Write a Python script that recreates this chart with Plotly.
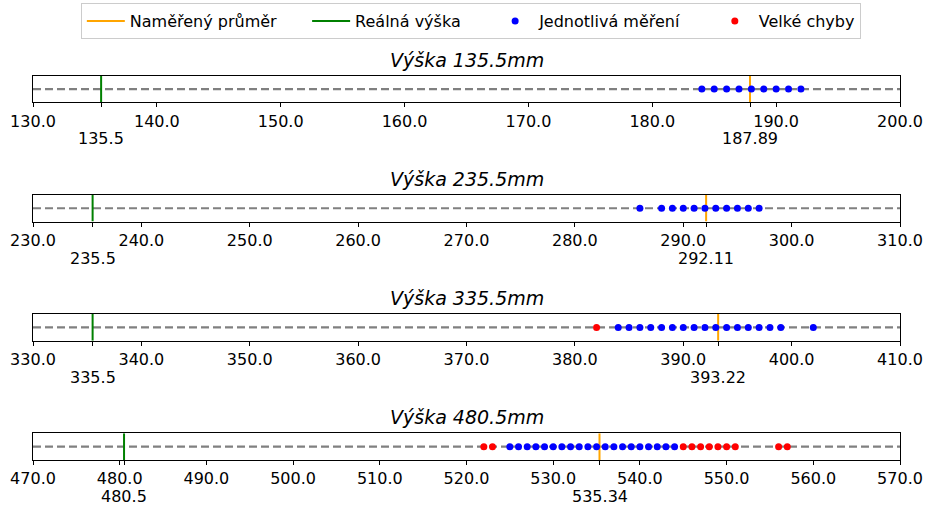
import plotly.graph_objects as go

# ---- data ----
real_heights = [135.5, 235.5, 335.5, 480.5]
measured_means = [187.89, 292.11, 393.22, 535.34]
x_ranges = [[130, 200], [230, 310], [330, 410], [470, 570]]

good_1 = [184, 185, 186, 187, 188, 189, 190, 191, 192]
good_2 = [286, 288, 289, 290, 291, 292, 293, 294, 295, 296, 297]
good_3 = [384, 385, 386, 387, 388, 389, 390, 391, 392, 393, 394, 395, 396, 397, 398, 399, 402]
good_4 = [525, 526, 527, 528, 529, 530, 531, 532, 533, 534, 535, 536, 537, 538, 539, 540,
          541, 542, 543, 544]
bad_1 = []
bad_2 = []
bad_3 = [382]
bad_4 = [522, 523, 545, 546, 547, 548, 549, 550, 551, 556, 557]

good_sets = [good_1, good_2, good_3, good_4]
bad_sets = [bad_1, bad_2, bad_3, bad_4]

legend_names = ["Naměřený průměr", "Reálná výška", "Jednotlivá měření", "Velké chyby"]

# ---- layout geometry (pixels) ----
W, H = 926, 506
panel_tops = [75.7, 194.9, 314.1, 433.3]
panel_h = 26.7
NB = "\u00a0"
legend_pad = [NB * 5, NB * 5, NB * 5, ""]

FONT = "DejaVu Sans"
fig = go.Figure()

legend_done = {"mean": False, "real": False, "good": False, "bad": False}

for i in range(4):
    n = i + 1
    xa = "x" if n == 1 else f"x{n}"
    ya = "y" if n == 1 else f"y{n}"
    x0, x1 = x_ranges[i]

    # dashed baseline
    fig.add_trace(go.Scatter(x=[x0, x1], y=[0, 0], mode="lines",
                             line=dict(color="#808080", width=2.2, dash="8px,4px"),
                             showlegend=False, hoverinfo="skip", xaxis=xa, yaxis=ya))
    # real height line
    fig.add_trace(go.Scatter(x=[real_heights[i]] * 2, y=[-1, 1], mode="lines",
                             line=dict(color="green", width=2),
                             name=legend_names[1] + legend_pad[1], legendrank=2,
                             showlegend=not legend_done["real"], xaxis=xa, yaxis=ya))
    legend_done["real"] = True
    # measured mean line
    fig.add_trace(go.Scatter(x=[measured_means[i]] * 2, y=[-1, 1], mode="lines",
                             line=dict(color="orange", width=2),
                             name=legend_names[0] + legend_pad[0], legendrank=1,
                             showlegend=not legend_done["mean"], xaxis=xa, yaxis=ya))
    legend_done["mean"] = True
    # individual measurements
    fig.add_trace(go.Scatter(x=good_sets[i], y=[0] * len(good_sets[i]), mode="markers",
                             marker=dict(color="blue", size=7),
                             name=legend_names[2] + legend_pad[2], legendrank=3,
                             showlegend=not legend_done["good"], xaxis=xa, yaxis=ya))
    legend_done["good"] = True
    if bad_sets[i]:
        fig.add_trace(go.Scatter(x=bad_sets[i], y=[0] * len(bad_sets[i]), mode="markers",
                                 marker=dict(color="red", size=7),
                                 name=legend_names[3] + legend_pad[3], legendrank=4,
                                 showlegend=not legend_done["bad"], xaxis=xa, yaxis=ya))
        legend_done["bad"] = True

    # ticks: regular + tick marks at real height and mean
    main_ticks = list(range(x0, x1 + 1, 10))
    tickvals = main_ticks + [real_heights[i], measured_means[i]]
    ticktext = [f"{v:.1f}" for v in main_ticks] + ["", ""]

    top = panel_tops[i]
    dom = [1 - (top + panel_h) / H, 1 - top / H]
    axx = "xaxis" if n == 1 else f"xaxis{n}"
    axy = "yaxis" if n == 1 else f"yaxis{n}"
    fig.update_layout(**{
        axx: dict(range=[x0, x1], domain=[0, 1], anchor=ya,
                  tickvals=tickvals, ticktext=ticktext, tickangle=0,
                  ticks="outside", ticklen=4, tickwidth=1, tickcolor="black",
                  showline=True, linecolor="black", linewidth=1, mirror=True,
                  showgrid=False, zeroline=False, automargin=False,
                  tickfont=dict(family=FONT, size=16, color="black")),
        axy: dict(range=[-1, 1], domain=dom, anchor=xa,
                  showticklabels=False, ticks="",
                  showline=True, linecolor="black", linewidth=1, mirror=True,
                  showgrid=False, zeroline=False, automargin=False),
    })
    # second-row labels for real height and mean
    for val, txt in [(real_heights[i], f"{real_heights[i]}"), (measured_means[i], f"{measured_means[i]:.2f}")]:
        fig.add_annotation(text=txt, x=val, xref=xa, yref="paper", y=dom[0],
                           xanchor="center", yanchor="middle", yshift=-36.5, showarrow=False,
                           font=dict(family=FONT, size=16, color="black"))
    fig.add_annotation(text=f"<i>Výška {real_heights[i]}mm</i>",
                       xref="paper", yref="paper", x=0.5, y=dom[1],
                       xanchor="center", yanchor="bottom", yshift=3, showarrow=False,
                       font=dict(family=FONT, size=19, color="black"))

fig.update_layout(
    width=W, height=H,
    margin=dict(l=33, r=26, t=0, b=0),
    plot_bgcolor="white", paper_bgcolor="white",
    font=dict(family=FONT, size=16, color="black"),
    legend=dict(orientation="h", x=0.505, y=1 - 3 / H, xanchor="center", yanchor="top",
                bgcolor="white", bordercolor="#cccccc", borderwidth=1, itemwidth=38,
                font=dict(family=FONT, size=16, color="black")),
)

fig.write_html("out.html", config={"displayModeBar": False},
               post_script="document.body.style.margin='0';")
